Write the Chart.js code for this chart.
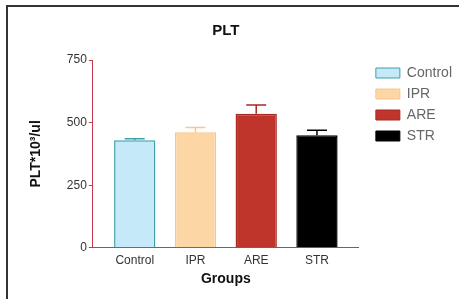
<!DOCTYPE html>
<html>
<head>
<meta charset="utf-8">
<script src="https://cdn.jsdelivr.net/npm/chart.js@4"></script>
<style>
  html, body { margin: 0; padding: 0; background: #fff; overflow: hidden; }
  #wrap { position: relative; width: 459px; height: 299px; overflow: hidden; }
  #frame { position: absolute; left: 6px; top: 5px; width: 470px; height: 310px;
           border-top: 2px solid #333; border-left: 2px solid #333; }
  canvas { position: absolute; left: 0; top: 0; }
</style>
</head>
<body>
<div id="wrap">
  <div id="frame"></div>
  <canvas id="chart" width="459" height="299"></canvas>
</div>
<script>
const groups = ['Control', 'IPR', 'ARE', 'STR'];
const means = [430, 461, 535, 449];
const errors = [6, 19, 35, 20];
const fillColors = ['#c6e9f9', '#fdd6a6', '#c0352b', '#000000'];
const lineColors = ['#3f9fa8', '#f6c68e', '#a82a22', '#000000'];
const yTicks = [0, 250, 500, 750];

const axisRed = '#c73a50';

const errorBars = {
    id: 'errorBars',
    afterDatasetsDraw(chart) {
        const ctx = chart.ctx;
        const meta = chart.getDatasetMeta(0);
        const y = chart.scales.y;
        ctx.save();
        ctx.lineWidth = 1.5;
        meta.data.forEach((bar, i) => {
            const top = y.getPixelForValue(means[i] + errors[i]);
            ctx.strokeStyle = lineColors[i];
            ctx.beginPath();
            ctx.moveTo(bar.x, bar.y);
            ctx.lineTo(bar.x, top);
            ctx.moveTo(bar.x - 10, top);
            ctx.lineTo(bar.x + 10, top);
            ctx.stroke();
        });
        ctx.restore();
    }
};

// push the legend a little away from the plot, like the original figure
const legendGap = {
    id: 'legendGap',
    afterLayout(chart) {
        if (!chart.legend) return;
        chart.legend.left += 10;
        chart.legend.right += 10;
    }
};

new Chart(document.getElementById('chart'), {
    type: 'bar',
    data: {
        datasets: [{
            data: means.map((v, i) => ({ x: i, y: v })),
            backgroundColor: fillColors,
            borderColor: lineColors,
            borderWidth: 1.5,
            barPercentage: 0.68,
            categoryPercentage: 1
        }]
    },
    options: {
        responsive: false,
        animation: false,
        layout: { padding: { left: 28, right: 7, top: 12, bottom: 7 } },
        plugins: {
            title: {
                display: true,
                fullSize: false,
                text: 'PLT',
                color: '#111',
                font: { family: 'Liberation Sans', size: 15, weight: 'bold' },
                padding: { top: 10, bottom: 20 }
            },
            legend: {
                position: 'right',
                align: 'start',
                title: {
                    display: true,
                    text: ' ',
                    font: { size: 10 },
                    padding: { top: 35, bottom: 0 }
                },
                labels: {
                    boxWidth: 24,
                    boxHeight: 10,
                    padding: 7,
                    color: '#222',
                    font: { family: 'Liberation Sans', size: 14 },
                    generateLabels: () => groups.map((g, i) => ({
                        text: g,
                        fillStyle: fillColors[i],
                        strokeStyle: lineColors[i],
                        lineWidth: 1,
                        index: i
                    }))
                }
            },
            tooltip: { enabled: false }
        },
        scales: {
            x: {
                type: 'linear',
                offset: false,
                min: -0.69,
                max: 3.69,
                afterBuildTicks: axis => { axis.ticks = groups.map((g, i) => ({ value: i })); },
                grid: { display: false, drawTicks: false },
                border: { color: axisRed, width: 1 },
                ticks: {
                    color: '#333',
                    padding: 6,
                    maxRotation: 0,
                    font: { family: 'Liberation Sans', size: 12 },
                    callback: v => groups[v]
                },
                title: {
                    display: true,
                    text: 'Groups',
                    color: '#111',
                    padding: { top: -3, bottom: 4 },
                    font: { family: 'Liberation Sans', size: 14, weight: 'bold' }
                }
            },
            y: {
                min: 0,
                max: 750,
                afterBuildTicks: axis => { axis.ticks = yTicks.map(v => ({ value: v })); },
                grid: { drawOnChartArea: false, color: axisRed, tickLength: 4 },
                border: { color: axisRed, width: 1 },
                ticks: {
                    color: '#333',
                    padding: 2,
                    font: { family: 'Liberation Sans', size: 12 }
                },
                title: {
                    display: true,
                    text: 'PLT*10³/ul',
                    color: '#111',
                    padding: { top: 0, bottom: 20 },
                    font: { family: 'Liberation Sans', size: 14, weight: 'bold' }
                }
            }
        }
    },
    plugins: [errorBars, legendGap]
});
</script>
</body>
</html>
